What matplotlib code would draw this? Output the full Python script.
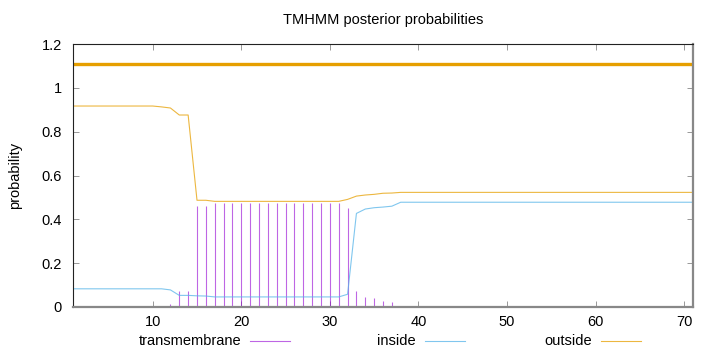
'''
    TMHMM posterior probabilities
'''

import matplotlib
matplotlib.use("Agg")
import matplotlib.pyplot as plt
from matplotlib.lines import Line2D

plt.rcParams["font.family"] = ["Liberation Sans", "DejaVu Sans"]

# sequence positions 1..71
pos = list(range(1, 72))

transmembrane = [0, 0, 0, 0, 0, 0, 0, 0, 0, 0,
                 0.006, 0.014, 0.071, 0.071, 0.462, 0.462, 0.476, 0.476, 0.476, 0.476,
                 0.476, 0.476, 0.476, 0.476, 0.476, 0.476, 0.476, 0.476, 0.476, 0.476,
                 0.476, 0.453, 0.073, 0.047, 0.041, 0.027, 0.023, 0, 0, 0,
                 0, 0, 0, 0, 0, 0, 0, 0, 0, 0,
                 0, 0, 0, 0, 0, 0, 0, 0, 0, 0,
                 0, 0, 0, 0, 0, 0, 0, 0, 0, 0,
                 0]

inside = [0.083, 0.083, 0.083, 0.083, 0.083, 0.083, 0.083, 0.083, 0.083, 0.083,
          0.083, 0.078, 0.053, 0.053, 0.051, 0.050, 0.046, 0.046, 0.046, 0.046,
          0.046, 0.046, 0.046, 0.046, 0.046, 0.046, 0.046, 0.046, 0.046, 0.046,
          0.046, 0.058, 0.427, 0.447, 0.453, 0.456, 0.460, 0.478, 0.478, 0.478,
          0.478, 0.478, 0.478, 0.478, 0.478, 0.478, 0.478, 0.478, 0.478, 0.478,
          0.478, 0.478, 0.478, 0.478, 0.478, 0.478, 0.478, 0.478, 0.478, 0.478,
          0.478, 0.478, 0.478, 0.478, 0.478, 0.478, 0.478, 0.478, 0.478, 0.478,
          0.478]

outside = [0.917, 0.917, 0.917, 0.917, 0.917, 0.917, 0.917, 0.917, 0.917, 0.917,
           0.913, 0.908, 0.876, 0.876, 0.487, 0.487, 0.482, 0.482, 0.482, 0.482,
           0.482, 0.482, 0.482, 0.482, 0.482, 0.482, 0.482, 0.482, 0.482, 0.482,
           0.482, 0.491, 0.506, 0.511, 0.514, 0.519, 0.520, 0.523, 0.523, 0.523,
           0.523, 0.523, 0.523, 0.523, 0.523, 0.523, 0.523, 0.523, 0.523, 0.523,
           0.523, 0.523, 0.523, 0.523, 0.523, 0.523, 0.523, 0.523, 0.523, 0.523,
           0.523, 0.523, 0.523, 0.523, 0.523, 0.523, 0.523, 0.523, 0.523, 0.523,
           0.523]

# predicted topology drawn above the curves
topology = [("outside", 1, 71)]
topology_y = 1.11

colors = {"transmembrane": "#9400d3", "inside": "#56b4e9", "outside": "#e69f00"}
alphas = {"transmembrane": 0.6, "inside": 0.75, "outside": 0.75}
fs = 10.5


def main():
    fig = plt.figure(figsize=(7.2, 3.52), dpi=100)
    ax = fig.add_axes([73 / 720, 45 / 352, 620 / 720, 263 / 352])

    ax.vlines(pos, 0, transmembrane, color=colors["transmembrane"], lw=0.8,
              alpha=alphas["transmembrane"])
    ax.plot(pos, inside, "-", color=colors["inside"], lw=0.8, alpha=alphas["inside"])
    ax.plot(pos, outside, "-", color=colors["outside"], lw=0.8, alpha=alphas["outside"])
    for (kind, start, end) in topology:
        ax.hlines(topology_y, start, end, color=colors[kind], lw=2.4)

    ax.set_xlim(1, 71)
    ax.set_ylim(0, 1.2)
    ax.set_xticks([10, 20, 30, 40, 50, 60, 70])
    ax.set_yticks([0, 0.2, 0.4, 0.6, 0.8, 1.0, 1.2])
    ax.set_yticklabels(["0", "0.2", "0.4", "0.6", "0.8", "1", "1.2"])
    ax.tick_params(direction="in", length=4, width=0.6, color="#888888",
                   labelsize=fs, top=True, right=True)
    ax.tick_params(axis="x", pad=6)
    ax.tick_params(axis="y", pad=8)

    for side in ("left", "top"):
        ax.spines[side].set_color("#222222")
        ax.spines[side].set_linewidth(0.8)
    for side in ("bottom", "right"):
        ax.spines[side].set_color("#888888")
        ax.spines[side].set_linewidth(1.6)

    ax.set_ylabel("probability", fontsize=fs, labelpad=14)
    fig.text(383 / 720, 1 - 20 / 352, "TMHMM posterior probabilities",
             ha="center", va="center", fontsize=fs)

    # gnuplot style key below the plot
    for (name, x_end) in [("transmembrane", 241), ("inside", 416), ("outside", 592)]:
        fig.text(x_end / 720, 1 - 341 / 352, name, ha="right", va="center", fontsize=fs)
        fig.add_artist(Line2D([(x_end + 9) / 720, (x_end + 49) / 720],
                              [1 - 341 / 352, 1 - 341 / 352],
                              color=colors[name], lw=0.8, alpha=alphas[name]))

    fig.savefig("out.png", dpi=100)


if __name__ == "__main__":
    main()
